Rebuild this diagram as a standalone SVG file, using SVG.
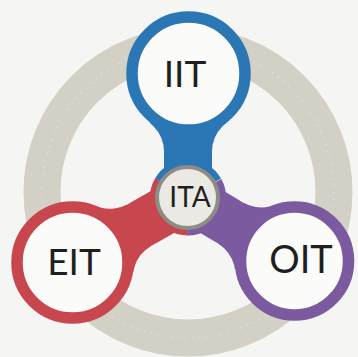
<svg xmlns="http://www.w3.org/2000/svg" width="358" height="357" viewBox="0 0 358 357">
  <defs>
    <style>
      .lbl { font-family: "Lato", "Liberation Sans", sans-serif; fill: #1f1f1f; text-anchor: middle; }
      .node { fill: #fbfbf9; stroke-width: 11.5; }
      .cut { fill: #f5f5f3; }
    </style>
  </defs>
  <rect x="0" y="0" width="358" height="357" fill="#f5f5f3"/>
  <g id="ring">
    <circle cx="188" cy="192" r="146" fill="none" stroke="#d3d0c6" stroke-width="37"/>
    <circle cx="188" cy="192" r="146" fill="none" stroke="#ffffff" stroke-width="1.5" stroke-dasharray="1 6" opacity="0.45"/>
  </g>
  <g id="connectors">
    <g transform="translate(188,197.5) rotate(0)" fill="#2b77b5">
      <path d="M0,0 L-33,-19 A38,38 0 0,1 33,-19 Z"/>
      <polygon points="0,0 -24,-13.9 -24,-45.9 -38.1,-74.4 0,-124 38.1,-74.4 24,-45.9 24,-13.9"/>
    </g>
    <g transform="translate(188,197.5) rotate(-119.5)" fill="#c8464e">
      <path d="M0,0 L-33,-19 A38,38 0 0,1 33,-19 Z"/>
      <polygon points="0,0 -24,-13.9 -24,-55.9 -37.8,-84.3 0,-132.8 37.8,-84.3 24,-55.9 24,-13.9"/>
    </g>
    <g transform="translate(188,197.5) rotate(121)" fill="#7b5a9f">
      <path d="M0,0 L-33,-19 A38,38 0 0,1 33,-19 Z"/>
      <polygon points="0,0 -24,-13.9 -24,-49.3 -37.5,-77.4 0,-124.2 37.5,-77.4 24,-49.3 24,-13.9"/>
    </g>
    <g class="cut">
      <g transform="translate(188,197.5) rotate(0)">
        <circle cx="-60" cy="-45.9" r="36"/><circle cx="60" cy="-45.9" r="36"/>
      </g>
      <g transform="translate(188,197.5) rotate(-119.5)">
        <circle cx="-60" cy="-55.9" r="36"/><circle cx="60" cy="-55.9" r="36"/>
      </g>
      <g transform="translate(188,197.5) rotate(121)">
        <circle cx="-60" cy="-49.3" r="36"/><circle cx="60" cy="-49.3" r="36"/>
      </g>
    </g>
  </g>
  <g id="IIT">
    <circle class="node" cx="188.5" cy="73.5" r="56.5" stroke="#2b77b5"/>
    <text class="lbl" x="185" y="87" font-size="37">IIT</text>
  </g>
  <g id="EIT">
    <circle class="node" cx="72.5" cy="262.5" r="55.5" stroke="#c8464e"/>
    <text class="lbl" x="74" y="275" font-size="37">EIT</text>
  </g>
  <g id="OIT">
    <circle class="node" cx="294.5" cy="261" r="54" stroke="#7b5a9f"/>
    <text class="lbl" x="301" y="273" font-size="38">OIT</text>
  </g>
  <g id="ITA">
    <circle cx="187.5" cy="197.5" r="30.5" fill="#ebe9e3" stroke="#8d8c86" stroke-width="4"/>
    <text class="lbl" x="190" y="207" font-size="28">ITA</text>
  </g>
</svg>
